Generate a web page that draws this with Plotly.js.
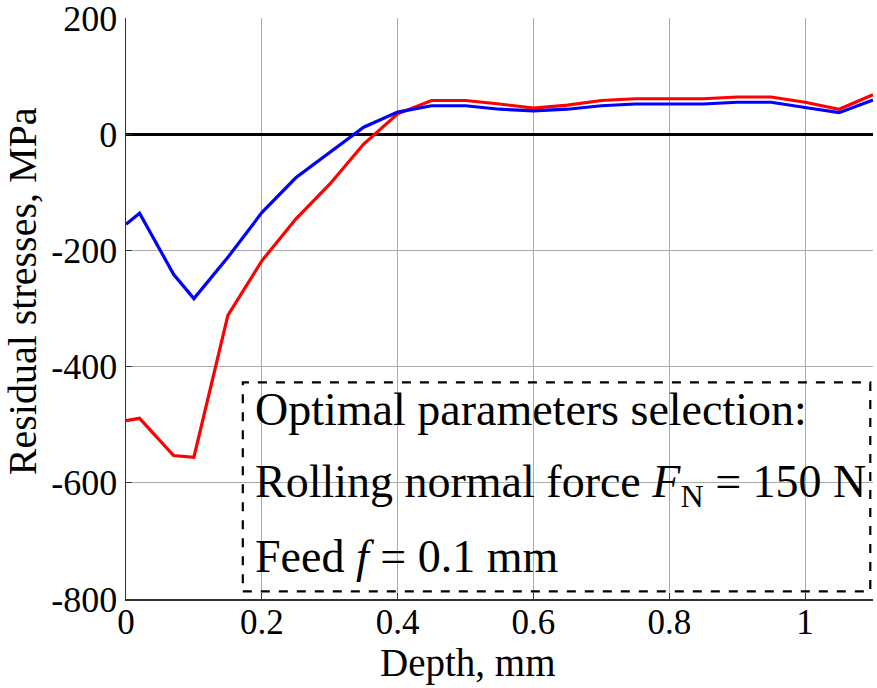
<!DOCTYPE html>
<html>
<head>
<meta charset="utf-8">
<script src="https://cdn.plot.ly/plotly-3.0.1.min.js"></script>
<style>html,body{margin:0;padding:0;background:#fff}#chart{width:877px;height:688px}</style>
</head>
<body>
<div id="chart"></div>
<script>
// Depth values (mm)
const depth = [0, 0.02, 0.07, 0.1, 0.15, 0.2, 0.25, 0.3, 0.35, 0.4, 0.45, 0.5, 0.55, 0.6, 0.65, 0.7, 0.75, 0.8, 0.85, 0.9, 0.95, 1.0, 1.05, 1.1];
// Residual stresses (MPa)
const blueStress = [-155, -136, -241, -283, -212, -135, -75, -32, 12, 38, 49, 49, 43, 40, 43, 49, 52, 52, 52, 55, 55, 46, 37, 59];
const redStress  = [-493, -489, -553, -556, -312, -218, -146, -86, -17, 35, 58, 58, 52, 45, 50, 58, 61, 61, 61, 64, 64, 55, 43, 68];
const xTicks = [0, 0.2, 0.4, 0.6, 0.8, 1];
const xTickText = ['0', '0.2', '0.4', '0.6', '0.8', '1'];
const yTicks = [-800, -600, -400, -200, 0, 200];
const yTickText = ['-800', '-600', '-400', '-200', '0', '200'];
const xTitle = 'Depth, mm';
const yTitle = 'Residual stresses, MPa';
const noteLines = [
  'Optimal parameters selection:',
  'Rolling normal force <i>F</i><sub>N</sub> = 150 N',
  'Feed <i>f</i> = 0.1 mm'
];

const serif = 'Liberation Serif, Times New Roman, serif';

const traces = [
  {x: depth, y: redStress, mode: 'lines', line: {color: '#ff0000', width: 3.2}, hoverinfo: 'skip'},
  {x: depth, y: blueStress, mode: 'lines', line: {color: '#0000ff', width: 3.2}, hoverinfo: 'skip'}
];

const noteY = [-474, -603, -727];
const annotations = noteLines.map((t, i) => ({
  x: 0.187, y: noteY[i], xref: 'x', yref: 'y', text: t, showarrow: false,
  xanchor: 'left', yanchor: 'middle', align: 'left',
  font: {family: serif, size: 46, color: '#000'}
}));
annotations.push({
  x: 0.4565, y: -0.1515, xref: 'paper', yref: 'paper', text: xTitle, showarrow: false,
  xanchor: 'center', yanchor: 'bottom', font: {family: serif, size: 39, color: '#000'}
});
annotations.push({
  x: -0.139, y: 0.53, xref: 'paper', yref: 'paper', text: yTitle, showarrow: false,
  textangle: -90, xanchor: 'center', yanchor: 'middle', font: {family: serif, size: 40, color: '#000'}
});

const layout = {
  width: 877, height: 688,
  margin: {l: 126, r: 4, t: 18, b: 89},
  paper_bgcolor: '#fff', plot_bgcolor: '#fff',
  showlegend: false,
  xaxis: {
    range: [0, 1.1], tickvals: xTicks, ticktext: xTickText,
    showgrid: true, gridcolor: '#ababab', gridwidth: 1,
    zeroline: false, showline: true, linecolor: '#333', linewidth: 1.5,
    ticks: 'inside', ticklen: 6, tickcolor: '#333',
    ticklabelstandoff: -9, ticklabeloverflow: 'allow',
    tickfont: {family: serif, size: 35, color: '#000'},
    fixedrange: true
  },
  yaxis: {
    range: [-800, 200], tickvals: yTicks, ticktext: yTickText,
    showgrid: true, gridcolor: '#ababab', gridwidth: 1,
    zeroline: true, zerolinecolor: '#000', zerolinewidth: 3,
    showline: true, linecolor: '#333', linewidth: 1.5,
    ticks: 'inside', ticklen: 6, tickcolor: '#333',
    ticklabelstandoff: 0, ticklabeloverflow: 'allow',
    tickfont: {family: serif, size: 36, color: '#000'},
    fixedrange: true
  },
  xaxis2: {
    overlaying: 'x', side: 'top', matches: 'x', range: [0, 1.1], tickvals: xTicks,
    showticklabels: false, showgrid: false, zeroline: false, showline: false,
    ticks: 'inside', ticklen: 6, tickcolor: '#333'
  },
  yaxis2: {
    overlaying: 'y', side: 'right', matches: 'y', range: [-800, 200], tickvals: yTicks,
    showticklabels: false, showgrid: false, zeroline: false, showline: false,
    ticks: 'inside', ticklen: 6, tickcolor: '#333'
  },
  shapes: [{
    type: 'rect', xref: 'x', yref: 'y', x0: 0.172, x1: 1.096, y0: -787, y1: -427,
    line: {color: '#000', width: 2.2, dash: 'dash'}, fillcolor: 'rgba(0,0,0,0)', layer: 'above'
  }],
  annotations: annotations
};

Plotly.newPlot('chart', traces, layout, {displayModeBar: false, staticPlot: true});
</script>
</body>
</html>
